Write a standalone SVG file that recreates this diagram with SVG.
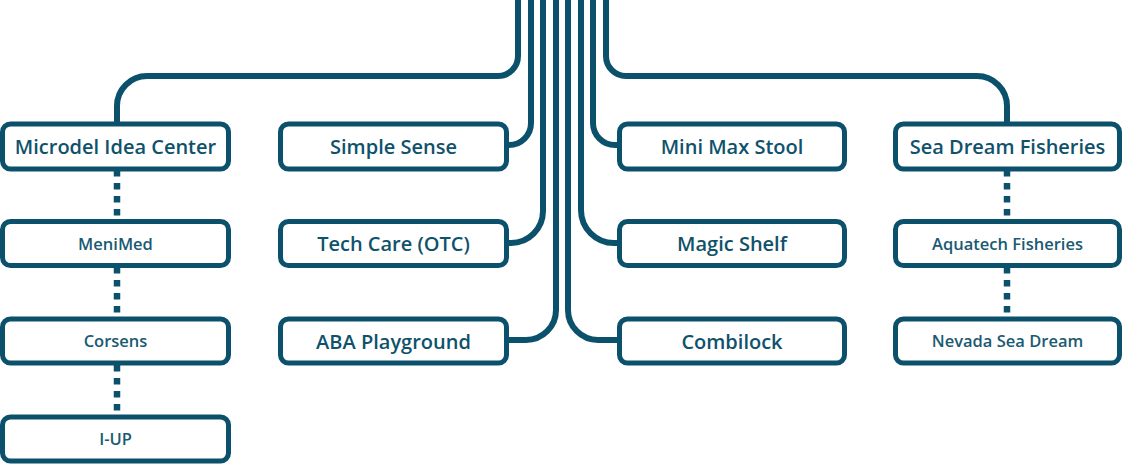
<svg xmlns="http://www.w3.org/2000/svg" width="1125" height="465" viewBox="0 0 1125 465">
<style>
.box{fill:#fff;stroke:#0c516b;stroke-width:5;}
.ln{fill:none;stroke:#0c516b;stroke-width:6;}
.dot{fill:none;stroke:#0c516b;stroke-width:6.5;stroke-dasharray:6.5 6.5;}
.t1{font-family:"Open Sans","Liberation Sans",sans-serif;font-weight:600;font-size:20px;fill:#0f526b;text-anchor:middle;}
.t2{font-family:"Open Sans","Liberation Sans",sans-serif;font-weight:600;font-size:16.5px;fill:#1a5a72;text-anchor:middle;}
</style>
<rect width="1125" height="465" fill="#fff"/>
<g id="connectors">
<path class="ln" d="M518 -5 V56 A20 20 0 0 1 498 76 H147 A30 30 0 0 0 117 106 V124"/>
<path class="ln" d="M531 -5 V123 A22 22 0 0 1 509 145 H506"/>
<path class="ln" d="M543 -5 V211 A32 32 0 0 1 511 243 H506"/>
<path class="ln" d="M556 -5 V310 A30 30 0 0 1 526 340 H506"/>
<path class="ln" d="M568 -5 V310 A30 30 0 0 0 598 340 H620"/>
<path class="ln" d="M581 -5 V210 A33 33 0 0 0 614 243 H620"/>
<path class="ln" d="M593 -5 V123 A22 22 0 0 0 615 145 H620"/>
<path class="ln" d="M606 -5 V56 A20 20 0 0 0 626 76 H977 A30 30 0 0 1 1007 106 V124"/>
<path class="dot" d="M117 170 V221"/>
<path class="dot" d="M117 267 V319"/>
<path class="dot" d="M117 365 V417"/>
<path class="dot" d="M1007 170 V221"/>
<path class="dot" d="M1007 267 V319"/>
</g>
<g id="microdel"><rect class="box" x="2.5" y="124" width="226" height="45" rx="8"/><text class="t1" x="115.5" y="153.5">Microdel Idea Center</text></g>
<g id="menimed"><rect class="box" x="2.5" y="221.5" width="226" height="44" rx="8"/><text class="t2" x="115.5" y="249.5">MeniMed</text></g>
<g id="corsens"><rect class="box" x="2.5" y="319" width="226" height="44" rx="8"/><text class="t2" x="115.5" y="347">Corsens</text></g>
<g id="iup"><rect class="box" x="2.5" y="417" width="226" height="44" rx="8"/><text class="t2" x="115.5" y="445">I-UP</text></g>
<g id="simple-sense"><rect class="box" x="280.5" y="124" width="226" height="45" rx="8"/><text class="t1" x="393.5" y="153.5">Simple Sense</text></g>
<g id="tech-care"><rect class="box" x="280.5" y="221.5" width="226" height="44" rx="8"/><text class="t1" x="393.5" y="250.5">Tech Care (OTC)</text></g>
<g id="aba"><rect class="box" x="280.5" y="319" width="226" height="44" rx="8"/><text class="t1" x="393.5" y="348.5">ABA Playground</text></g>
<g id="mini-max"><rect class="box" x="619.5" y="124" width="225" height="45" rx="8"/><text class="t1" x="732" y="153.5">Mini Max Stool</text></g>
<g id="magic-shelf"><rect class="box" x="619.5" y="221.5" width="225" height="44" rx="8"/><text class="t1" x="732" y="250.5">Magic Shelf</text></g>
<g id="combilock"><rect class="box" x="619.5" y="319" width="225" height="44" rx="8"/><text class="t1" x="732" y="348.5">Combilock</text></g>
<g id="sea-dream"><rect class="box" x="895.5" y="124" width="224" height="45" rx="8"/><text class="t1" x="1007.5" y="153.5">Sea Dream Fisheries</text></g>
<g id="aquatech"><rect class="box" x="895.5" y="221.5" width="224" height="44" rx="8"/><text class="t2" x="1007.5" y="249.5">Aquatech Fisheries</text></g>
<g id="nevada"><rect class="box" x="895.5" y="319" width="224" height="44" rx="8"/><text class="t2" x="1007.5" y="347">Nevada Sea Dream</text></g>
</svg>
